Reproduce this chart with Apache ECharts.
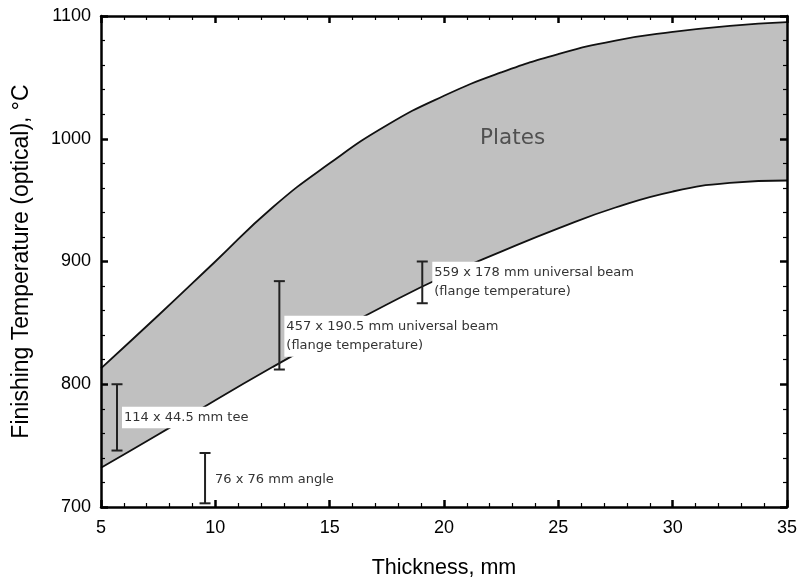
<!DOCTYPE html>
<html>
<head>
<meta charset="utf-8">
<title>Finishing temperature vs thickness</title>
<script src="https://cdn.jsdelivr.net/npm/echarts@6/dist/echarts.min.js"></script>
<style>
    html, body {margin: 0; padding: 0; background: #fff;}
    #chart {width: 800px; height: 584px;}
</style>
</head>
<body>
<div id="chart"></div>
<script>
// edges of the plate band, both read on the same thickness steps
var aThickness = [5, 7.5, 10, 12.5, 15, 17.5, 20, 22.5, 25, 27.5, 30, 32.5, 35];
var aLower = [732, 759, 787, 814, 840, 865, 888, 908, 927, 944, 957, 964, 966];
var aUpper = [813, 856, 900, 944, 980, 1011, 1035, 1054, 1069, 1080, 1087, 1092, 1095];

// sections: thickness, low and high temperature
var aBarX = [5.7, 9.55, 12.8, 19.05];
var aBarLow = [746, 703, 812, 866];
var aBarHigh = [800, 744, 884, 900];
var aBarNames = [
    '114 x 44.5 mm tee',
    '76 x 76 mm angle',
    '457 x 190.5 mm universal beam\n(flange temperature)',
    '559 x 178 mm universal beam\n(flange temperature)'
];

var aPlatesAt = [23, 1000];
var sPlatesName = 'Plates';

var aXRange = [5, 35];
var aYRange = [700, 1100];
var iXStep = 5;
var iYStep = 100;

// label shift from the bar, px
var aLabelShift = [[5, 0], [8, 1], [5, 11], [10, 0]];

function RenderBar(params, api) {
    var fX = api.value(0);
    var pLow = api.coord([fX, api.value(1)]);
    var pHigh = api.coord([fX, api.value(2)]);
    var iCap = 5.5;
    var aShift = aLabelShift[params.dataIndex];
    var fMid = (pLow[1] + pHigh[1]) / 2;
    var jStroke = {stroke: '#222', lineWidth: 2};
    return {
        type: 'group',
        children: [
            {type: 'line', shape: {x1: pLow[0], y1: pLow[1], x2: pHigh[0], y2: pHigh[1]}, style: jStroke},
            {type: 'line', shape: {x1: pLow[0] - iCap, y1: pLow[1], x2: pLow[0] + iCap, y2: pLow[1]}, style: jStroke},
            {type: 'line', shape: {x1: pHigh[0] - iCap, y1: pHigh[1], x2: pHigh[0] + iCap, y2: pHigh[1]}, style: jStroke},
            {
                type: 'text',
                x: pLow[0] + aShift[0],
                y: fMid + aShift[1],
                style: {
                    text: aBarNames[params.dataIndex],
                    fill: '#333',
                    font: '13px "DejaVu Sans"',
                    align: 'left',
                    verticalAlign: 'middle',
                    lineHeight: 19.5,
                    backgroundColor: '#fff',
                    padding: [1, 2]
                }
            }
        ]
    };
}

function GetAxis(bLabel) {
    return {
        type: 'value',
        z: 10,
        axisLine: {show: true, lineStyle: {color: '#000', width: 2.5}},
        axisTick: {show: true, inside: true, length: 7, lineStyle: {color: '#000', width: 2.5}},
        minorTick: {show: true, splitNumber: 5, length: 4, lineStyle: {color: '#000', width: 1.2}},
        splitLine: {show: false},
        minorSplitLine: {show: false},
        axisLabel: {
            show: bLabel, color: '#000', fontSize: 18, fontFamily: 'Liberation Sans',
            formatter: function (v) { return String(v); }
        }
    };
}

var jX = GetAxis(true);
jX.min = aXRange[0]; jX.max = aXRange[1]; jX.interval = iXStep;
jX.position = 'bottom';
jX.axisLabel.margin = 12;
jX.name = 'Thickness, mm';
jX.nameLocation = 'middle';
jX.nameGap = 50;
jX.nameTextStyle = {color: '#000', fontSize: 21.5, fontFamily: 'Liberation Sans'};

var jXTop = GetAxis(false);
jXTop.min = aXRange[0]; jXTop.max = aXRange[1]; jXTop.interval = iXStep;
jXTop.position = 'top';

var jY = GetAxis(true);
jY.min = aYRange[0]; jY.max = aYRange[1]; jY.interval = iYStep;
jY.position = 'left';
jY.axisLabel.margin = 10;
jY.name = 'Finishing Temperature (optical), °C';
jY.nameLocation = 'middle';
jY.nameGap = 68;
jY.nameTextStyle = {color: '#000', fontSize: 23, fontFamily: 'Liberation Sans'};

var jYRight = GetAxis(false);
jYRight.min = aYRange[0]; jYRight.max = aYRange[1]; jYRight.interval = iYStep;
jYRight.position = 'right';

var aLowerData = [];
var aUpperData = [];
for (var i = 0; i < aThickness.length; i++) {
    aLowerData.push([aThickness[i], aLower[i]]);
    aUpperData.push([aThickness[i], aUpper[i]]);
}
var aBarData = [];
for (var j = 0; j < aBarX.length; j++) {
    aBarData.push([aBarX[j], aBarLow[j], aBarHigh[j]]);
}

var jOption = {
    animation: false,
    backgroundColor: '#fff',
    grid: {left: 101, right: 13, top: 16, bottom: 73},
    xAxis: [jX, jXTop],
    yAxis: [jY, jYRight],
    series: [
        {
            // grey from the upper edge down
            type: 'line',
            smooth: true,
            symbol: 'none',
            data: aUpperData,
            lineStyle: {color: '#111', width: 1.8},
            areaStyle: {color: '#c0c0c0', opacity: 1, origin: 'start'},
            z: 2
        },
        {
            // white below the lower edge leaves the band
            type: 'line',
            smooth: true,
            symbol: 'none',
            data: aLowerData,
            lineStyle: {color: '#111', width: 1.8},
            areaStyle: {color: '#fff', opacity: 1, origin: 'start'},
            z: 3
        },
        {
            type: 'scatter',
            symbolSize: 0,
            data: [aPlatesAt],
            label: {
                show: true,
                position: 'inside',
                formatter: sPlatesName,
                color: '#333',
                fontSize: 21.5,
                fontFamily: 'DejaVu Sans'
            },
            z: 4
        },
        {
            type: 'custom',
            renderItem: RenderBar,
            data: aBarData,
            z: 5
        }
    ]
};

var oChart = echarts.init(document.getElementById('chart'));
oChart.setOption(jOption);
</script>
</body>
</html>
